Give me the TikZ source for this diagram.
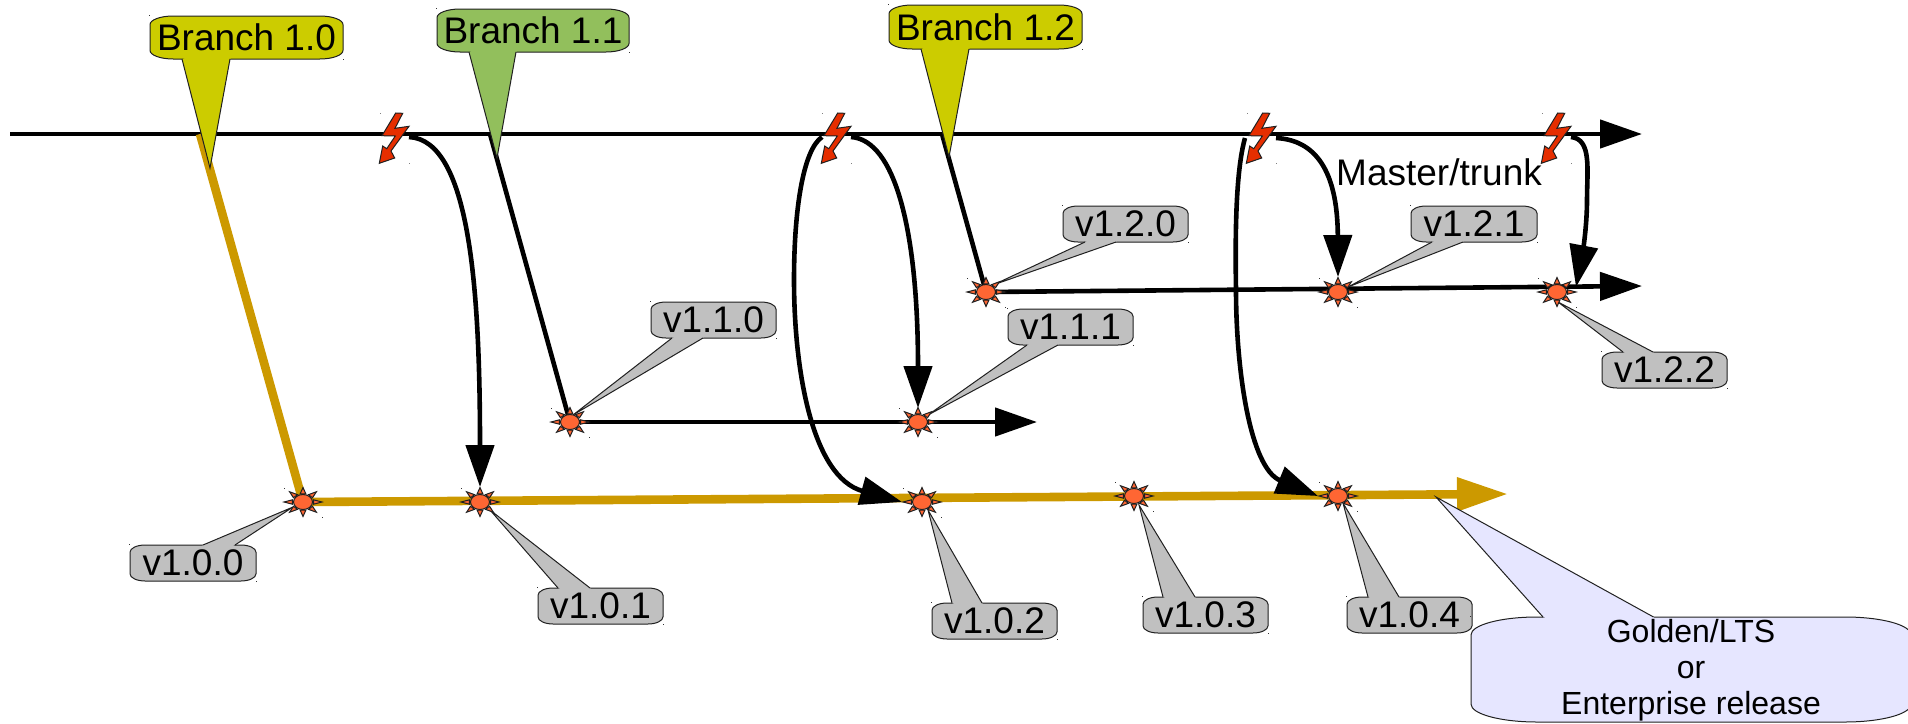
\documentclass[tikz,border=0pt]{standalone}
\usepackage{fontspec}
\setmainfont{Liberation Sans}
\usetikzlibrary{arrows.meta}
\definecolor{yel}{HTML}{CCCC00}
\definecolor{grn}{HTML}{92BF5C}
\definecolor{gry}{HTML}{C0C0C0}
\definecolor{lav}{HTML}{E6E6FF}
\definecolor{gold}{HTML}{CC9900}
\definecolor{burst}{HTML}{FF6633}
\definecolor{bolt}{HTML}{E62E00}
\definecolor{edge}{HTML}{202020}
\tikzset{
  thinline/.style={line width=4.6pt,black},
  goldline/.style={line width=8.6pt,gold},
  blackhead/.style={-{Triangle[length=42pt,width=28pt]}},
  goldhead/.style={-{Triangle[length=51pt,width=32pt]}},
  lbl/.style={inner sep=0pt,font=\fontsize{37}{44}\selectfont,text=black},
  smalllbl/.style={inner sep=0pt,align=center,font=\fontsize{32}{36}\selectfont,text=black},
  rim/.style={line width=1pt,draw=edge},
  speck/.style={fill=black!80}
}
\def\rxf{0.12}
\def\ryf{0.2}
\newcommand\callout[9]{% colour,name,x1,y1,x2,y2,base1,base2,tip
  \pgfmathsetmacro\rxv{\rxf*(#5-#3)}
  \pgfmathsetmacro\ryv{\ryf*(#6-#4)}
  \coordinate (#2c) at ({(#3+#5)/2},{(#4+#6)/2});
  \coordinate (#2t) at (#9);
  \path[fill=#1,rim] ({#3+\rxv},#4) -- ({#5-\rxv},#4)
     arc[start angle=-90,end angle=0,x radius=\rxv,y radius=\ryv]
     -- (#5,{#6-\ryv})
     arc[start angle=0,end angle=90,x radius=\rxv,y radius=\ryv]
     -- ({#3+\rxv},#6)
     arc[start angle=90,end angle=180,x radius=\rxv,y radius=\ryv]
     -- (#3,{#4+\ryv})
     arc[start angle=180,end angle=270,x radius=\rxv,y radius=\ryv] -- cycle;
  \fill[#1] (#2t) -- (#7) -- (#2c) -- (#8) -- cycle;
  \draw[rim] (#7) -- (#2t) -- (#8);
  \fill[speck] (#3-1,#4-1) rectangle +(1,1);
  \fill[speck] (#5,#6) rectangle +(1,1);
}
\newcommand\burstmark[3]{% name,x,y
  \coordinate (#1) at (#2,#3);
  \begin{scope}[shift={(#2,#3)}]
    \foreach \a in {0,45,...,315}
      \path[fill=burst,rim] ({19*cos(\a)},{14.5*sin(\a)}) -- ({11*cos(\a-15)},{8.5*sin(\a-15)}) -- ({11*cos(\a+15)},{8.5*sin(\a+15)}) -- cycle;
    \path[fill=burst,rim] (0,0) ellipse [x radius=9.5,y radius=7.5];
    \fill[speck] (-19.5,-14.5) rectangle +(1.2,1.2);
    \fill[speck] (19,14.5) rectangle +(1.2,1.2);
  \end{scope}
}
\newcommand\boltmark[2]{% name, x offset
  \coordinate (#1) at (#2,90);
  \begin{scope}[shift={(#2,90)}]
    \path[fill=bolt,rim,line join=miter] (35.7,23) -- (42.7,23.3) -- (35,38.3) -- (49,36.3) -- (31,61) -- (34.7,68) -- (19.3,73.3) -- (22.7,56) -- (26.7,58.7) -- (35.3,46) -- (22,45.7) -- cycle;
    \fill[black!50] (20,22.5) rectangle +(1,1);
    \fill[black!50] (49,73) rectangle +(1,1);
  \end{scope}
}
\begin{document}
\begin{tikzpicture}[x=1pt,y=-1pt]
\useasboundingbox (0,0) rectangle (1908,723);
% named points
\coordinate (mainS) at (10,134);
\coordinate (mainE) at (1642,134);
\coordinate (b0S) at (200,134);
\coordinate (b1S) at (490,134);
\coordinate (b2S) at (942,134);
\coordinate (s100) at (303,502);
\coordinate (s101) at (480,502);
\coordinate (s102) at (922,502);
\coordinate (s103) at (1134,496);
\coordinate (s104) at (1338,496);
\coordinate (s110) at (570,422);
\coordinate (s111) at (918,422);
\coordinate (s120) at (986,292);
\coordinate (s121) at (1338,292);
\coordinate (s122) at (1557,292);
\coordinate (goldE) at (1508,494);
\coordinate (l11E) at (1037,422);
\coordinate (l12E) at (1642,286);
% main lines
\draw[thinline,blackhead] (mainS) -- (mainE);
\draw[goldline] (b0S) -- (s100);
\draw[thinline] (b1S) -- (s110);
\draw[thinline] (b2S) -- (s120);
\draw[goldline,goldhead] (s100) -- (goldE);
\draw[thinline,blackhead] (s110) -- (l11E);
\draw[thinline,blackhead] (s120) -- (l12E);
% merge curves
\coordinate (c1S) at (409,137);  \coordinate (c1E) at (480,487);
\coordinate (c2S) at (851,137);  \coordinate (c2E) at (918,408);
\coordinate (c3S) at (822,137);  \coordinate (c3M) at (794,280); \coordinate (c3E) at (902,502);
\coordinate (c4S) at (1245,138); \coordinate (c4M) at (1236,290); \coordinate (c4E) at (1318,496);
\coordinate (c5S) at (1276,138); \coordinate (c5E) at (1338,277);
\coordinate (c6S) at (1571,137); \coordinate (c6M) at (1587,200); \coordinate (c6E) at (1576,287);
\draw[thinline,blackhead] (c1S) .. controls (470,140) and (480,290) .. (c1E);
\draw[thinline,blackhead] (c2S) .. controls (895,140) and (918,230) .. (c2E);
\draw[thinline,blackhead] (c3S) .. controls (803,150) and (794,210) .. (c3M) .. controls (794,370) and (812,477) .. (c3E);
\draw[thinline,blackhead] (c4S) .. controls (1236,170) and (1235,230) .. (c4M) .. controls (1236,370) and (1250,468) .. (c4E);
\draw[thinline,blackhead] (c5S) .. controls (1315,140) and (1337.5,170) .. (c5E);
\draw[thinline,blackhead] (c6S) .. controls (1592,139) and (1587,170) .. (c6M) .. controls (1587,225) and (1583,250) .. (c6E);
% version callouts
\callout{gry}{v110}{651}{302}{776}{338}{672,338}{703,338}{573,415}
\callout{gry}{v111}{1008}{309}{1133}{345}{1027,345}{1058,345}{928,415}
\callout{gry}{v120}{1063}{206}{1188}{242}{1085,242}{1116,242}{993,285}
\callout{gry}{v121}{1411}{206}{1537}{242}{1432,242}{1463,242}{1348,287}
\callout{gry}{v122}{1602}{352}{1727}{388}{1623,352}{1653,352}{1558,302}
\callout{gry}{v100}{130}{545}{256}{581}{203,545}{235,545}{293,507}
\callout{gry}{v101}{538}{588}{663}{624}{558,588}{590,588}{490,510}
\callout{gry}{v102}{932}{603}{1057}{639}{952,603}{982,603}{928,510}
\callout{gry}{v103}{1143}{597}{1268}{633}{1163,597}{1195,597}{1139,505}
\callout{gry}{v104}{1347}{597}{1472}{633}{1368,597}{1399,597}{1343,503}
% bursts
\burstmark{m100}{303}{502}
\burstmark{m101}{480}{502}
\burstmark{m102}{922}{502}
\burstmark{m103}{1134}{496}
\burstmark{m104}{1338}{496}
\burstmark{m110}{570}{422}
\burstmark{m111}{918}{422}
\burstmark{m120}{986}{292}
\burstmark{m121}{1338}{292}
\burstmark{m122}{1557}{292}
% bolts
\boltmark{z1}{360}
\boltmark{z2}{802}
\boltmark{z3}{1227}
\boltmark{z4}{1522}
% branch callouts
\callout{yel}{b10}{150}{16}{343}{59}{182,59}{230,59}{210,168}
\callout{grn}{b11}{437}{9}{629}{52}{469,52}{516,52}{497,158}
\callout{yel}{b12}{889}{5}{1082}{49}{921,49}{969,49}{949,157}
\def\rxf{0.15}
\def\ryf{0.17}
\callout{lav}{gold}{1471}{617}{1911}{722}{1543,617}{1653.5,617}{1436,497}
% labels
\node[lbl] (tb10) at (b10c) {Branch 1.0};
\node[lbl] (tb11) at (b11c) {Branch 1.1};
\node[lbl] (tb12) at (b12c) {Branch 1.2};
\node[lbl] (tv110) at (v110c) {v1.1.0};
\node[lbl] (tv111) at (v111c) {v1.1.1};
\node[lbl] (tv120) at (v120c) {v1.2.0};
\node[lbl] (tv121) at (v121c) {v1.2.1};
\node[lbl] (tv122) at (v122c) {v1.2.2};
\node[lbl] (tv100) at (v100c) {v1.0.0};
\node[lbl] (tv101) at (v101c) {v1.0.1};
\node[lbl] (tv102) at (v102c) {v1.0.2};
\node[lbl] (tv103) at (v103c) {v1.0.3};
\node[lbl] (tv104) at (v104c) {v1.0.4};
\node[lbl,anchor=base west] (master) at (1336,185) {Master/trunk};
\node[smalllbl] (tgold) at (1691,670) {Golden/LTS\\or\\Enterprise release};
\end{tikzpicture}
\end{document}
